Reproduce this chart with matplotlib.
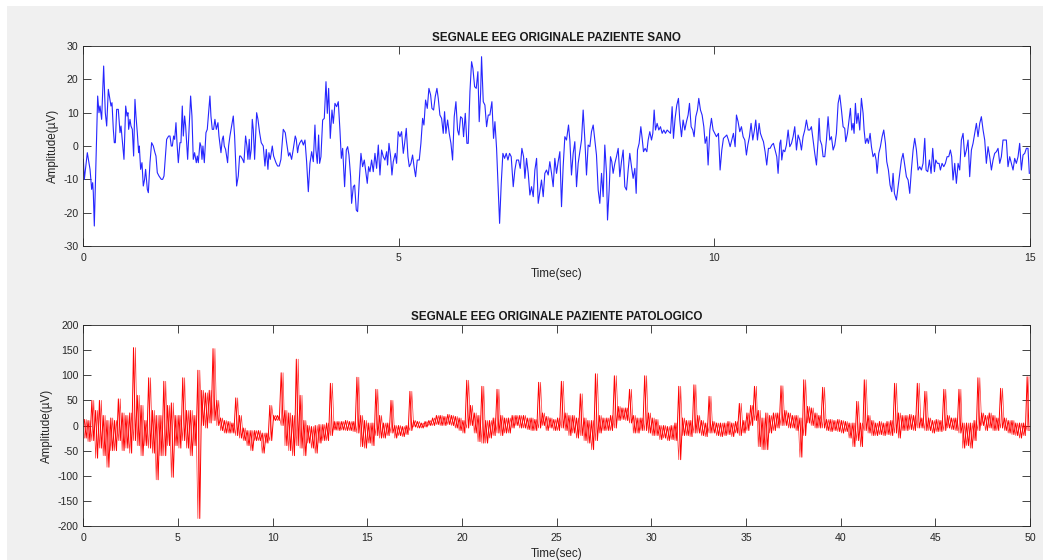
import numpy as np
import matplotlib.pyplot as plt
from matplotlib.patches import Rectangle

plt.rcParams['font.family'] = ['Liberation Sans', 'DejaVu Sans']
plt.rcParams['axes.unicode_minus'] = False

# segnale sano: istanti (s) e ampiezze (uV) dei punti del tracciato
t_sano = [
    0.000, 0.016, 0.063, 0.106, 0.132, 0.148, 0.158, 0.174, 0.227, 0.248,
    0.264, 0.290, 0.322, 0.348, 0.370, 0.396, 0.438, 0.454, 0.475, 0.491,
    0.507, 0.528, 0.554, 0.581, 0.597, 0.644, 0.671, 0.692, 0.707, 0.718,
    0.739, 0.755, 0.776, 0.797, 0.818, 0.834, 0.855, 0.876, 0.887, 0.908,
    0.929, 0.950, 0.971, 0.987, 1.014, 1.030, 1.056, 1.082, 1.109, 1.135,
    1.151, 1.172, 1.199, 1.235, 1.257, 1.278, 1.320, 1.352, 1.373, 1.394,
    1.410, 1.431, 1.447, 1.468, 1.484, 1.505, 1.531, 1.547, 1.568, 1.584,
    1.605, 1.621, 1.653, 1.700, 1.721, 1.742, 1.763, 1.790, 1.806, 1.822,
    1.848, 1.864, 1.880, 1.895, 1.917, 1.943, 1.964, 2.006, 2.022, 2.043,
    2.064, 2.085, 2.107, 2.133, 2.149, 2.181, 2.202, 2.218, 2.233, 2.254,
    2.286, 2.302, 2.323, 2.376, 2.397, 2.429, 2.455, 2.476, 2.492, 2.524,
    2.545, 2.571, 2.592, 2.608, 2.629, 2.640, 2.661, 2.677, 2.693, 2.714,
    2.746, 2.767, 2.793, 2.819, 2.851, 2.878, 2.899, 2.925, 2.941, 2.962,
    2.994, 3.015, 3.052, 3.078, 3.105, 3.131, 3.168, 3.200, 3.221, 3.252,
    3.273, 3.300, 3.326, 3.358, 3.374, 3.395, 3.411, 3.432,
    3.459, 3.486, 3.512, 3.538, 3.565, 3.591, 3.618, 3.644, 3.670, 3.686,
    3.707, 3.728, 3.744, 3.765, 3.792, 3.818, 3.845, 3.866, 3.887, 3.913,
    3.940, 3.961, 3.987, 4.014, 4.040, 4.066, 4.088, 4.109, 4.140, 4.167,
    4.188, 4.209, 4.235, 4.251, 4.278, 4.299, 4.325, 4.346, 4.373, 4.399,
    4.425, 4.452, 4.478, 4.499, 4.520, 4.542, 4.568, 4.594, 4.621, 4.647,
    4.674, 4.700, 4.726, 4.753, 4.779, 4.806, 4.821, 4.843, 4.869, 4.890,
    4.911, 4.943, 4.964, 4.990, 5.017, 5.043, 5.070, 5.091, 5.117, 5.144,
    5.165, 5.191, 5.217, 5.244, 5.265, 5.291, 5.323, 5.349, 5.376, 5.397,
    5.423, 5.450, 5.476, 5.503, 5.524, 5.550, 5.576, 5.603, 5.624, 5.650,
    5.677, 5.703, 5.724, 5.745, 5.772, 5.798, 5.825, 5.851, 5.877, 5.904,
    5.930, 5.951, 5.978, 6.004, 6.025, 6.052, 6.078, 6.099, 6.126, 6.152,
    6.173, 6.200, 6.226, 6.252, 6.273, 6.295, 6.310, 6.337, 6.363, 6.390,
    6.416, 6.442, 6.474, 6.500, 6.522, 6.548, 6.569, 6.596, 6.622, 6.648,
    6.675, 6.701, 6.728, 6.754, 6.780, 6.812, 6.838, 6.865, 6.896, 6.923,
    6.949, 6.976, 6.997, 7.023, 7.050, 7.076, 7.102, 7.129, 7.155, 7.182,
    7.208,
    7.260, 7.287, 7.313, 7.339, 7.366, 7.392, 7.419, 7.445, 7.471, 7.498,
    7.524, 7.551, 7.577, 7.603, 7.630, 7.656, 7.688, 7.709, 7.735, 7.762,
    7.788, 7.815, 7.841, 7.867, 7.894, 7.920, 7.947, 7.973, 7.999, 8.026,
    8.052, 8.079, 8.105, 8.131, 8.158, 8.184, 8.211, 8.237, 8.263, 8.290,
    8.306, 8.332, 8.353, 8.374, 8.395, 8.422, 8.448, 8.475, 8.501, 8.527,
    8.554, 8.580, 8.607, 8.633, 8.659, 8.686, 8.712, 8.739, 8.760, 8.781,
    8.807, 8.834, 8.855, 8.876, 8.902, 8.929, 8.950, 8.976, 9.003, 9.024,
    9.045, 9.066, 9.092, 9.119, 9.145, 9.172, 9.198, 9.224, 9.251, 9.277,
    9.304, 9.330, 9.351, 9.377, 9.404, 9.430, 9.451, 9.478, 9.504, 9.531,
    9.557, 9.583, 9.605, 9.631, 9.657, 9.678, 9.705, 9.731, 9.752, 9.779,
    9.805, 9.832, 9.853, 9.879, 9.900, 9.927, 9.953, 9.979, 10.006, 10.032,
    10.064, 10.090, 10.117, 10.143, 10.169, 10.196, 10.222, 10.249, 10.275, 10.301,
    10.328, 10.349, 10.375, 10.402, 10.428, 10.455, 10.481, 10.507, 10.529, 10.555,
    10.581, 10.608, 10.634, 10.655, 10.682, 10.708, 10.729, 10.756, 10.777, 10.803,
    10.829, 10.856, 10.882, 10.909, 10.935, 10.961, 10.988, 11.009,
    11.036, 11.052, 11.067, 11.089, 11.115, 11.141, 11.168, 11.194, 11.221, 11.247,
    11.273, 11.300, 11.326, 11.353, 11.379, 11.405, 11.432, 11.458, 11.485, 11.511,
    11.537, 11.564, 11.590, 11.617, 11.643, 11.659, 11.675, 11.701, 11.722, 11.749,
    11.775, 11.801, 11.828, 11.854, 11.881, 11.907, 11.933, 11.960, 11.986, 12.013,
    12.039, 12.065, 12.081, 12.108, 12.134, 12.155, 12.176, 12.197, 12.213, 12.234,
    12.255, 12.277, 12.303, 12.329, 12.356, 12.372, 12.393, 12.419, 12.440, 12.467,
    12.488, 12.514, 12.541, 12.562, 12.578, 12.604, 12.630, 12.657, 12.683, 12.710,
    12.731, 12.757, 12.783, 12.810, 12.831, 12.852, 12.884, 12.910, 12.937, 12.963,
    12.989, 13.011, 13.042, 13.069, 13.095, 13.121, 13.148, 13.174, 13.201, 13.227,
    13.253, 13.280, 13.306, 13.333, 13.354, 13.380, 13.407, 13.433, 13.459, 13.486,
    13.507, 13.533, 13.560, 13.581, 13.607, 13.634, 13.660, 13.687, 13.713, 13.739,
    13.760, 13.781, 13.808, 13.834, 13.861, 13.887, 13.913, 13.940, 13.966, 13.993,
    14.019, 14.045, 14.072, 14.098, 14.125, 14.151, 14.177, 14.204, 14.230, 14.257,
    14.283, 14.309, 14.336, 14.362, 14.389, 14.415, 14.441, 14.468, 14.494, 14.521,
    14.547, 14.573, 14.600, 14.626, 14.652, 14.679, 14.705, 14.732, 14.758, 14.784,
    14.811, 14.837, 14.864, 14.890, 14.917, 14.943, 14.969, 14.990,
]
uv_sano = [
    -4, -10, -2, -7, -13, -11, -14, -24, 15, 10,
    12, 8, 24, 10, 6, 17, 12, 13, 5, 1,
    1, 11, 11, 4, 6, -4, 12, 9, 10, 5,
    8, 6, 5, -3, 14, 9, 4, -2, 0, -7,
    -5, -12, -10, -7, -13, -14, -5, 1, 0, -2,
    -3, -8, -9, -10, -10, -9, 2, 3, 3, 0,
    0, 3, 2, 7, 1, -5, 1, 1, 12, 3,
    9, 6, -4, 15, 9, -4, -2, -5, -3, -5,
    1, 0, -4, 0, -5, 4, 5, 15, 9, 5,
    5, 8, 5, 7, 3, -2, 2, 3, 0, -1,
    -5, 0, 3, 9, 3, -12, -9, -3, -3, -4,
    -5, 3, 0, -4, 2, -4, -1, 8, 5, -4,
    10, 8, 4, 1, 0, -6, -1, -7, -2, -4,
    0, -3, -5, -6, -6, -4, 5, 4, 1, -3,
    -2, -4, -1, 3, 2, -2, 0, 1,
    1.8, 0.3, 1.8, -4.7, -13.7, -5.2, -1.7, -4.7, 6.3, -1.2,
    -5.2, 3.3, -5.2, -3.2, 7.8, 8.3, 19.3, 9.8, 17.3, 2.3,
    10.8, 6.8, 12.8, 11.8, 13.3, 4.8, -3.7, -0.7, -12.2, -1.2,
    -0.2, -2.7, -9.2, -17.2, -12.2, -11.7, -19.2, -19.7, -10.2, -2.2,
    -6.2, -4.2, -8.2, -11.2, -6.2, -7.7, -4.2, -7.7, -2.2, -6.7,
    0.3, -8.7, -1.2, -3.2, -4.2, -1.7, -5.7, 0.8, -3.2, -8.7,
    -4.7, -2.2, -5.2, 4.3, 2.8, 4.3, -2.2, 0.8, 5.3, -3.2,
    -6.2, -5.2, -2.7, -6.7, -9.2, -4.2, -4.2, 0.8, 8.3, 6.3,
    13.8, 11.3, 17.3, 15.3, 11.3, 10.8, 14.8, 17.3, 14.3, 9.3,
    8.3, 3.8, 10.3, 3.8, 7.8, 3.8, 0.8, -4.2, 8.8, 13.3,
    4.8, 3.3, 8.8, 8.3, 2.8, 9.8, 0.8, 0.8, 16.3, 25.3,
    23.3, 17.8, 17.3, 22.3, 7.3, 15.8, 26.8, 13.3, 12.3, 5.8,
    9.3, 9.3, 13.3, 2.3, 7.3, -0.7, -10.7, -23.2, -11.2, -2.2,
    -3.7, -2.2, -4.2, -2.2, -3.2, -12.2, -7.2, -4.2, -4.2, -6.7,
    -0.7, -3.2, -9.7, -3.7, -8.2, -14.7, -12.2, -15.2, -7.2, -3.7,
    -17.2,
    -10.2, -15.2, -8.2, -7.2, -8.7, -4.7, -8.2, -12.2, -3.7, -8.2,
    -4.7, -1.7, -18.2, -6.2, 2.8, 1.8, 6.3, 1.8, -8.7, -2.2,
    1.3, -12.2, -5.2, -1.7, 1.8, 10.8, 1.8, -8.7, 0.3, -0.2,
    4.3, 6.3, 1.8, -2.7, -13.2, -17.2, -8.2, -15.2, 0.3, -8.2,
    -22.2, -13.2, -3.2, -4.7, -8.2, -5.2, -3.2, -0.7, -9.2, -4.7,
    -1.2, -12.2, -13.2, -7.2, -2.2, -6.2, -9.7, -6.7, -14.2, -1.2,
    0.8, 5.8, 2.3, -1.7, -0.7, -1.7, 1.8, 4.3, 1.8, 3.8,
    10.8, 4.8, 6.8, 4.8, 5.8, 3.8, 4.8, 3.8, 4.8, 4.3,
    3.8, 11.8, 2.3, 8.3, 12.3, 14.3, 7.8, 2.8, 7.8, 4.8,
    7.3, 9.3, 12.8, 5.8, 4.8, 2.8, 8.8, 10.8, 14.3, 10.8,
    9.3, 5.8, 0.8, 2.8, -5.7, 4.8, 8.3, 4.8, 3.8, 2.8,
    3.8, -7.2, -1.2, 2.3, 2.8, 3.3, 1.8, -0.2, 1.8, 3.8,
    -0.2, 9.3, 7.3, 4.3, 5.8, 2.8, 1.8, -2.7, 0.3, 2.8,
    6.8, 1.8, 4.8, 7.8, 1.8, 6.8, 3.8, 2.3, 1.3, -1.7,
    -5.7, -0.7, -0.7, 0.3, 0.8, -1.2, -3.2, -8.2,
    0.8, 1.8, -4.2, -1.2, -1.7, 0.3, 4.8, -0.2, 0.8, 2.8,
    5.8, -1.2, 3.3, 1.8, -1.2, 2.8, 4.8, 7.8, 4.8, 4.8,
    5.8, 1.8, -2.2, -5.7, 1.8, 8.3, 1.8, 0.3, -3.2, -3.2,
    1.8, 8.8, 1.8, 2.8, -1.2, 0.3, 3.8, 12.8, 15.3, 10.8,
    5.8, 5.3, 1.3, 3.8, 7.8, 11.3, 4.8, 6.8, 3.8, 12.8,
    6.8, 9.8, 4.8, 14.3, 9.8, 4.8, 0.8, 2.3, 0.8, 3.8,
    -0.2, -3.2, -2.2, -4.2, -8.2, -2.2, -0.2, 2.8, 4.8, 0.8,
    -4.7, -7.2, -11.7, -13.7, -8.2, -14.2, -16.2, -12.2, -8.2, -4.2,
    -2.2, -5.2, -9.2, -10.2, -14.2, -7.2, -1.2, 2.3, -1.2, -7.2,
    -6.2, -7.2, -5.2, 2.3, -7.2, -7.7, -4.2, -8.2, -0.7, -7.7,
    -4.2, -5.2, -5.2, -7.2, -5.2, -6.2, -5.2, -3.2, -3.2, -1.2,
    -3.2, -10.2, -5.2, -11.2, -5.2, -7.2, 1.8, 3.8, -3.2, -1.2,
    1.8, -9.2, -1.2, 0.8, 3.8, 6.8, 2.8, 6.8, 8.8, 4.8,
    1.8, -5.2, -0.2, -3.2, -7.2, -4.2, -2.2, -1.7, -0.7, -5.2,
    -3.2, 1.8, 1.8, 1.8, -6.2, -3.2, -5.2, -7.2, -3.7, -5.2,
    -3.2, 0.8, -7.2, -2.7, -2.2, -0.7, -0.7, -8.2,
]

# segnale patologico: massimo e minimo (uV) in finestre da 0.2 s
dt_pat = 0.2
hi_pat = [
    12, 10, 50, 30, 50, 20, 10, 15, 10, 53,
    25, 20, 25, 155, 60, 40, 10, 95, 30, 20,
    20, 88, 40, 45, 20, 20, 95, 30, 30, 20,
    110, 70, 65, 70, 153, 50, 15, 10, 8, 5,
    55, 20, -5, -10, -10, -10, -10, -15, -15, 40,
    20, 20, 105, 30, 25, 20, 132, 60, 10, 0,
    -2, 0, 2, 2, 5, 84, 8, 8, 8, 10,
    8, 8, 96, 20, 10, 5, 5, 72, 20, 5,
    5, 50, 0, 0, -2, 0, 68, 10, 8, 5,
    8, 10, 15, 20, 20, 18, 22, 20, 18, 15,
    10, 90, 40, 25, 20, 78, 10, 10, 15, 72,
    20, 15, 15, 20, 20, 20, 20, 15, 15, 12,
    86, 25, 18, 15, 12, 15, 88, 25, 20, 20,
    15, 63, 15, 10, 10, 103, 20, 15, 15, 20,
    99, 38, 35, 35, 72, 20, 15, 15, 99, 25,
    15, 12, 0, 0, -2, 0, 5, 78, 15, 10,
    10, 81, 20, 10, 5, 58, 8, 5, 5, 5,
    8, 5, 8, 44, 10, 25, 40, 78, 30, 15,
    25, 20, 25, 25, 79, 30, 25, 20, 20, 15,
    91, 38, 35, 25, 20, 76, 12, 12, 10, 12,
    10, 8, 5, 5, 48, 5, 91, 20, 10, 5,
    8, 5, 8, 10, 84, 25, 20, 20, 22, 20,
    84, 15, 68, 15, 10, 12, 10, 72, 20, 15,
    15, 72, 5, 5, 5, 10, 95, 25, 20, 25,
    20, 15, 74, 15, 10, 10, 5, 5, 5, 97,
]
lo_pat = [
    -25, -32, -30, -65, -45, -60, -83, -50, -50, -30,
    -50, -45, -55, -30, -40, -60, -40, -45, -55, -108,
    -60, -60, -40, -103, -40, -45, -30, -45, -60, -40,
    -185, 0, -5, 5, 10, 0, -10, -15, -15, -15,
    -20, -25, -30, -40, -50, -30, -30, -55, -35, -30,
    10, 10, 0, -40, -50, -60, -40, -45, -60, -35,
    -45, -55, -35, -30, -30, -20, -9, -10, -9, -10,
    -10, -12, -15, -42, -45, -35, -40, -20, -25, -25,
    -20, -15, -25, -20, -22, -18, -10, -3, -5, -5,
    -3, 0, 0, 2, 0, 0, 2, 0, -5, -10,
    -15, -5, 0, -15, -32, -35, -35, -25, -20, -15,
    -20, -15, -15, -5, 0, -5, -5, -8, -10, -10,
    -5, 0, -10, -5, -10, -10, -5, -10, -20, -15,
    -25, -20, -30, -35, -48, -30, -15, -10, -10, -10,
    -5, 10, 12, 10, 5, -15, -15, -10, -10, -15,
    -20, -20, -28, -25, -30, -28, -30, -68, -20, -20,
    -22, -15, -15, -20, -22, -15, -15, -20, -22, -20,
    -18, -22, -15, -20, -15, -10, 0, 10, -42, -48,
    -48, -15, -10, -5, 0, 0, -5, -5, -10, -63,
    -20, 5, 0, -5, -5, -5, -10, -12, -10, -12,
    -15, -12, -25, -42, -30, -42, -10, -15, -20, -20,
    -18, -20, -18, -20, -15, -25, -10, -10, -8, -10,
    -5, -5, -10, -10, -15, -12, -12, -10, -5, -8,
    -10, -15, -45, -40, -45, -30, -10, 0, -10, -5,
    -10, -10, -5, -10, -15, -18, -20, -25, -20, -10,
]

AX_COLOR = '#262626'


def style_axes(ax, xticks, yticks):
    ax.set_facecolor('white')
    ax.set_xticks(xticks)
    ax.set_yticks(yticks)
    ax.tick_params(direction='in', top=True, right=True, length=6, width=0.6,
                   color=AX_COLOR, labelcolor=AX_COLOR, labelsize=7.6)
    ax.tick_params(axis='x', pad=5.2)
    ax.tick_params(axis='y', pad=3.5)
    for sp in ax.spines.values():
        sp.set_color(AX_COLOR)
        sp.set_linewidth(0.6)
    ax.set_xlabel('Time(sec)', fontsize=8.4, color=AX_COLOR, labelpad=3.5)
    ax.set_ylabel('Amplitude(\u00b5V)', fontsize=8.4, color=AX_COLOR, labelpad=3)


fig = plt.figure(figsize=(10.43, 5.6), dpi=100, facecolor='white')
# sfondo grigio della finestra, con il bordino bianco in alto e a sinistra
fig.patches.append(Rectangle((7 / 1043, 0), 1.05, 1 - 6 / 560, transform=fig.transFigure,
                             facecolor='#f0f0f0', edgecolor='none', zorder=-10))

# paziente sano
ax1 = fig.add_axes([0.0799, 0.5607, 0.9076, 0.3571])
ax1.plot(t_sano, uv_sano, color='#2626ff', lw=0.8)
ax1.set_xlim(0, 15)
ax1.set_ylim(-30, 30)
style_axes(ax1, [0, 5, 10, 15], np.arange(-30, 31, 10))
ax1.set_title('SEGNALE EEG ORIGINALE PAZIENTE SANO', fontsize=8.4,
              fontweight='bold', color='#1a1a1a', pad=3.5)

# paziente patologico: in ogni finestra il tracciato oscilla fra massimo e
# minimo; due passate sfasate rendono la banda fitta del rumore
t0 = np.arange(len(hi_pat)) * dt_pat
t_a = np.column_stack([t0 + 0.25 * dt_pat, t0 + 0.75 * dt_pat]).ravel()
uv_a = np.column_stack([hi_pat, lo_pat]).ravel()
uv_b = np.column_stack([lo_pat, hi_pat]).ravel()

ax2 = fig.add_axes([0.0799, 0.0607, 0.9076, 0.3589])
ax2.plot(t_a, uv_a, color='#ff0000', lw=0.7)
ax2.plot(t_a, uv_b, color='#ff0000', lw=0.5, alpha=0.8)
ax2.set_xlim(0, 50)
ax2.set_ylim(-200, 200)
style_axes(ax2, np.arange(0, 51, 5), np.arange(-200, 201, 50))
ax2.set_title('SEGNALE EEG ORIGINALE PAZIENTE PATOLOGICO', fontsize=8.4,
              fontweight='bold', color='#1a1a1a', pad=3.5)

fig.savefig('out.png', dpi=100, facecolor=fig.get_facecolor())
